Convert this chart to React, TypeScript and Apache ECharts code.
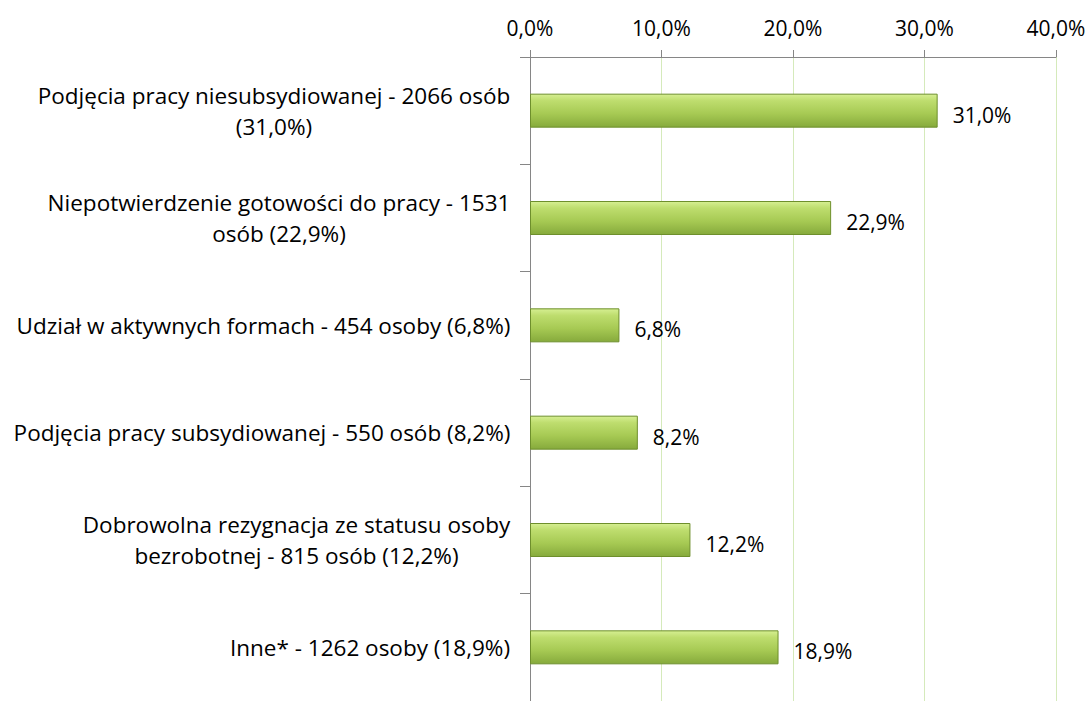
import React, { useEffect, useRef } from "react";
import * as echarts from "echarts";

const categories: string[] = [
  "Podjęcia pracy niesubsydiowanej - 2066 osób\n(31,0%)",
  "Niepotwierdzenie gotowości do pracy - 1531\nosób (22,9%)",
  "Udział w aktywnych formach - 454 osoby (6,8%)",
  "Podjęcia pracy subsydiowanej - 550 osób (8,2%)",
  "Dobrowolna rezygnacja ze statusu osoby\nbezrobotnej - 815 osób (12,2%)",
  "Inne* - 1262 osoby (18,9%)",
];
const values: number[] = [31.0, 22.9, 6.8, 8.2, 12.2, 18.9];
const axisMin = 0;
const axisMax = 40;
const axisInterval = 10;

const FONT = "'Open Sans', 'Noto Sans', sans-serif";
const CAT_SIZE = 22.5;
const NUM_SIZE = 21;

function fmt(v: number): string {
  return v.toFixed(1).replace(".", ",") + "%";
}

export default function App() {
  const ref = useRef<HTMLDivElement>(null);
  useEffect(() => {
    document.body.style.margin = "0";
    if (!ref.current) return;
    const chart = echarts.init(ref.current, undefined, { renderer: "svg" });

    const canvas = document.createElement("canvas");
    const ctx = canvas.getContext("2d")!;
    ctx.font = `${CAT_SIZE}px ${FONT}`;
    const rich: Record<string, any> = {};
    categories.forEach((c, i) => {
      const lines = c.split("\n");
      const w = Math.max(...lines.map((l) => ctx.measureText(l).width));
      rich["c" + i] = {
        width: Math.ceil(w) + 1,
        align: "center",
        fontFamily: FONT,
        fontSize: CAT_SIZE,
        color: "#000",
        lineHeight: 31,
      };
    });

    const revCats = categories.slice().reverse();
    const revVals = values.slice().reverse();

    chart.setOption({
      animation: false,
      backgroundColor: "#fff",
      grid: { left: 530, top: 57, width: 526, height: 652, containLabel: false },
      xAxis: {
        type: "value",
        position: "top",
        min: axisMin,
        max: axisMax,
        interval: axisInterval,
        axisLine: { show: true, lineStyle: { color: "#868686", width: 1 } },
        axisTick: { show: true, length: 7, lineStyle: { color: "#868686" } },
        splitLine: { show: true, lineStyle: { color: "#d5eabb", width: 1 } },
        axisLabel: {
          formatter: (v: number) => fmt(v),
          fontFamily: FONT,
          fontSize: NUM_SIZE,
          color: "#000",
          margin: 19,
        },
      },
      yAxis: {
        type: "category",
        data: revCats,
        axisLine: { show: true, lineStyle: { color: "#868686", width: 1 } },
        axisTick: { show: true, length: 10, lineStyle: { color: "#868686" } },
        axisLabel: {
          margin: 19,
          formatter: (v: string) => {
            const idx = categories.indexOf(v);
            return v
              .split("\n")
              .map((l) => `{c${idx}|${l}}`)
              .join("\n");
          },
          rich,
          fontFamily: FONT,
          fontSize: CAT_SIZE,
          color: "#000",
        },
      },
      series: [
        {
          type: "bar",
          data: revVals,
          barWidth: 34,
          itemStyle: {
            color: new echarts.graphic.LinearGradient(0, 0, 0, 1, [
              { offset: 0, color: "#d6ef92" },
              { offset: 0.2, color: "#bedd6e" },
              { offset: 0.6, color: "#a6c953" },
              { offset: 1, color: "#86aa3c" },
            ]),
            borderColor: "#6e8f2c",
            borderWidth: 1,
          },
          label: {
            show: true,
            position: "right",
            distance: 15,
            offset: [0, 4],
            formatter: (p: any) => fmt(p.value),
            fontFamily: FONT,
            fontSize: NUM_SIZE,
            color: "#000",
          },
        },
      ],
    });
    return () => chart.dispose();
  }, []);
  return <div ref={ref} style={{ width: 1090, height: 701 }} />;
}
